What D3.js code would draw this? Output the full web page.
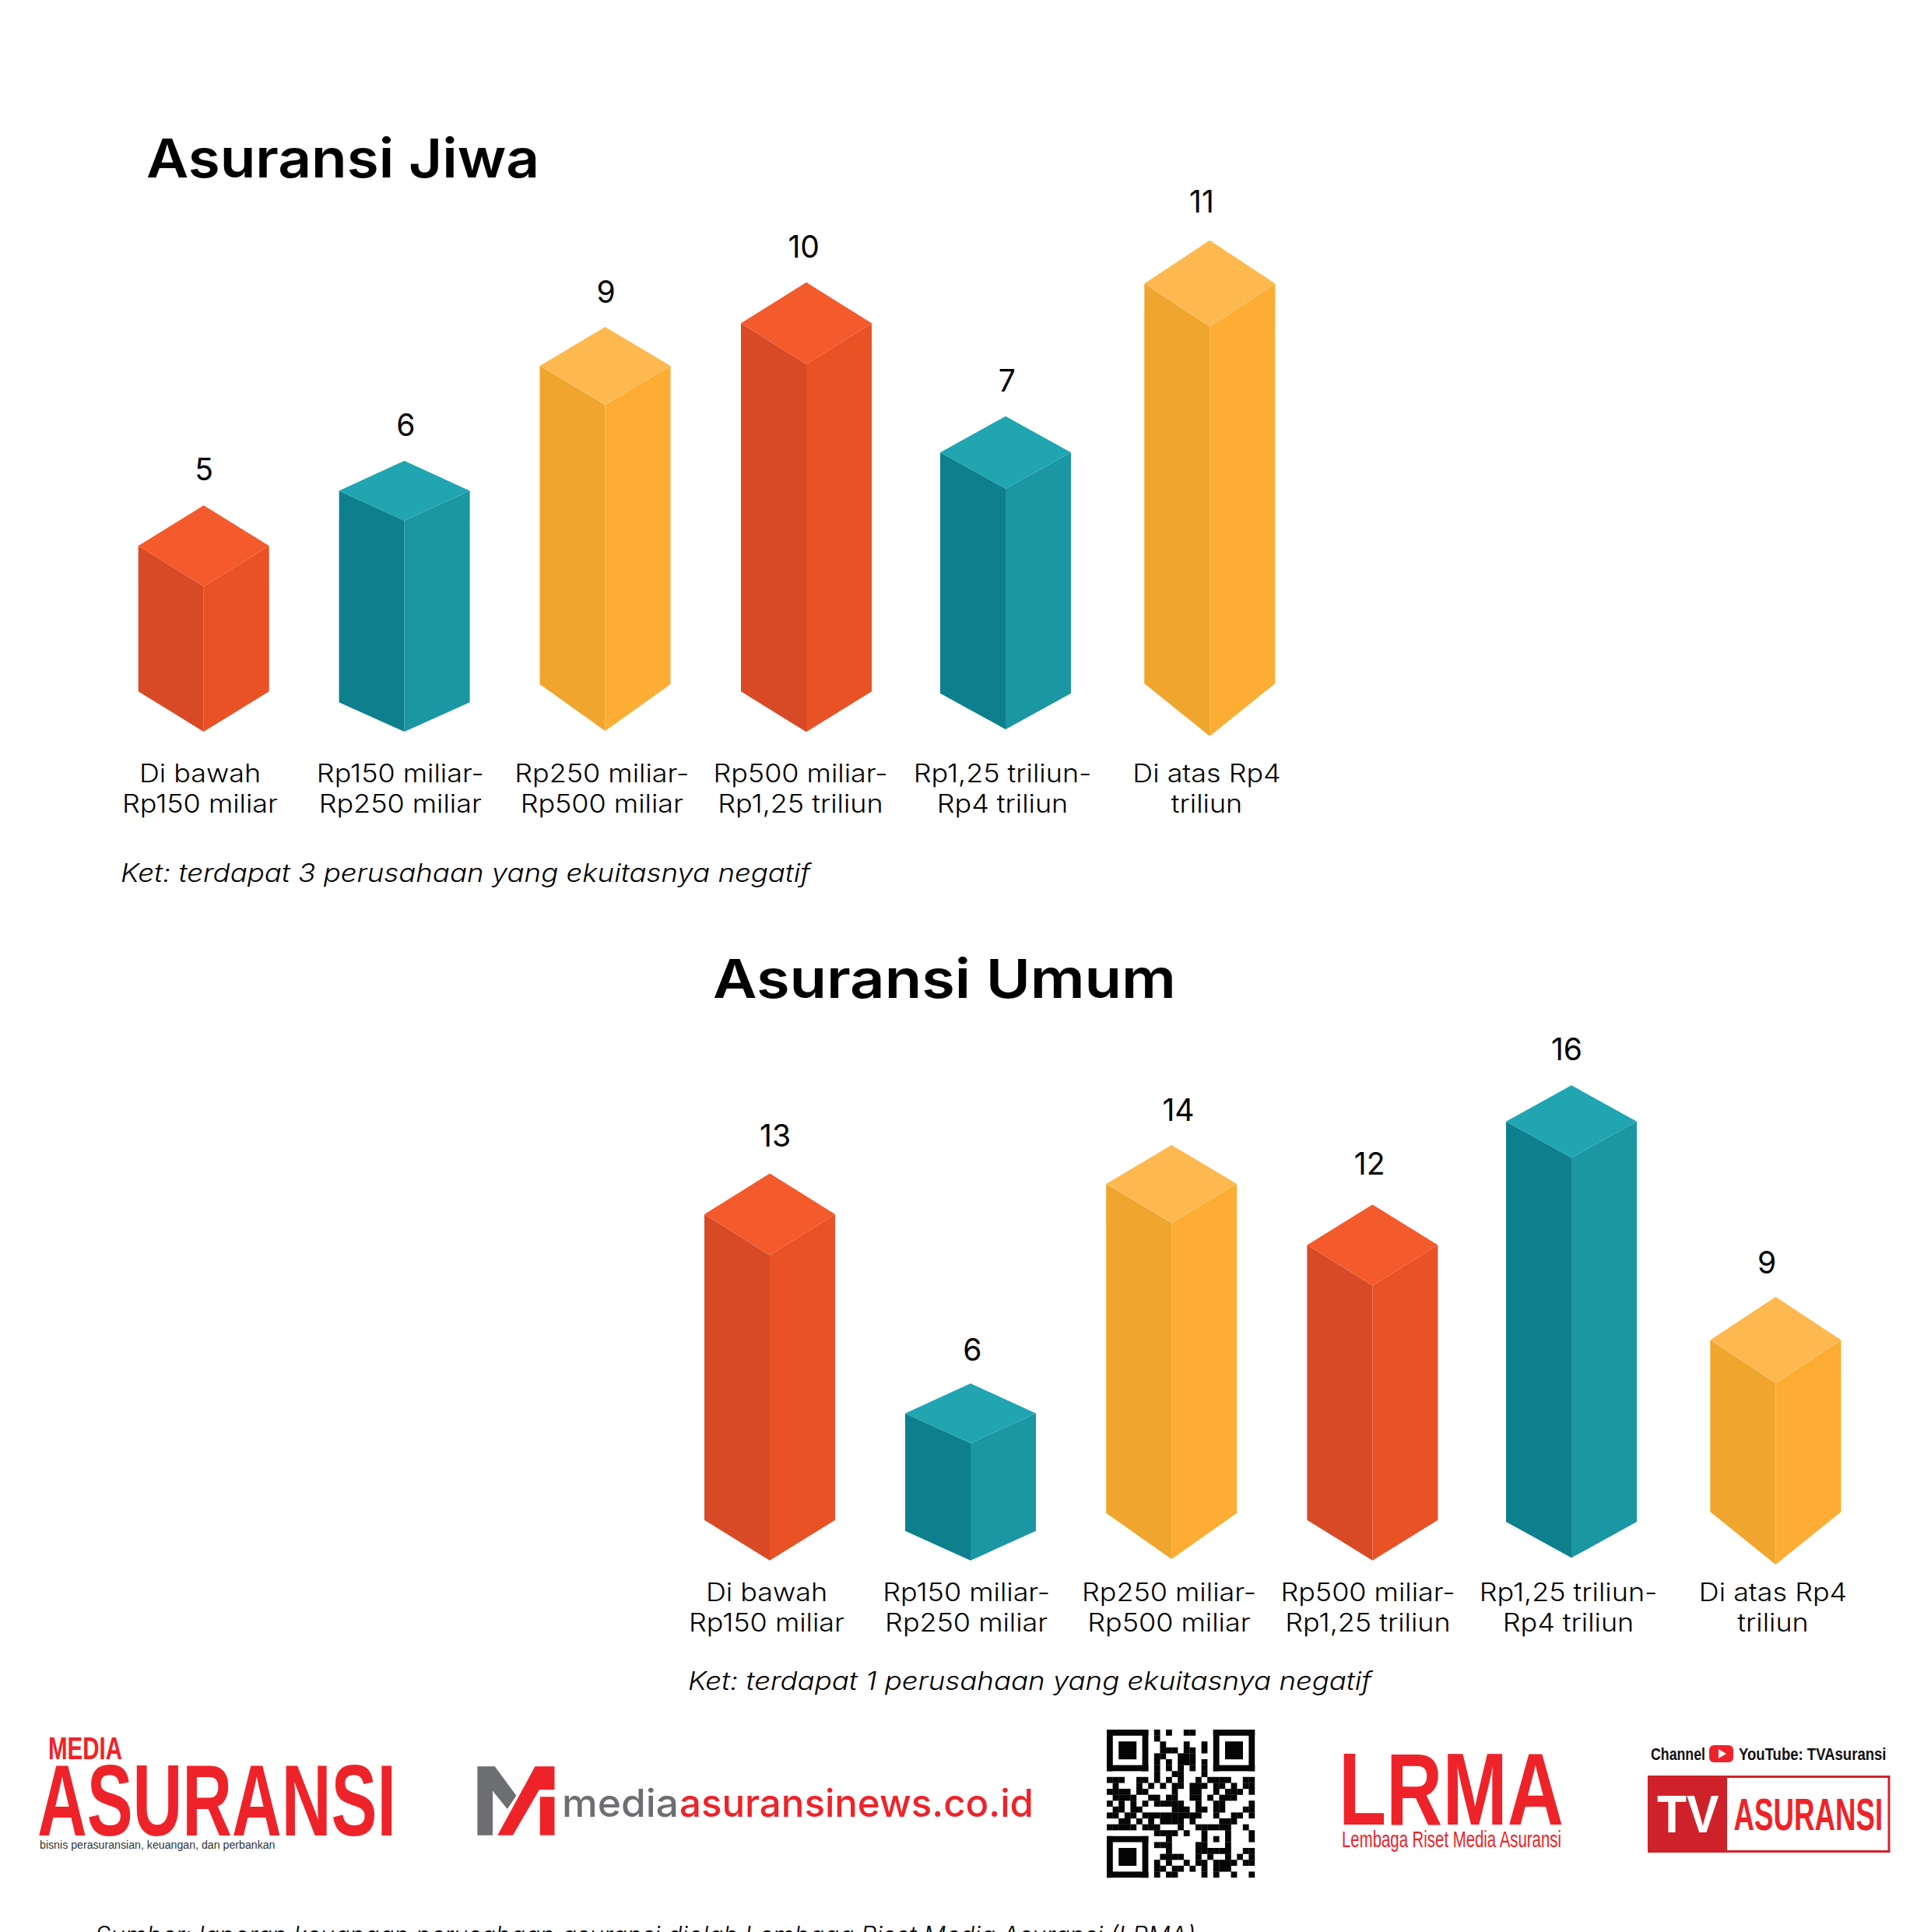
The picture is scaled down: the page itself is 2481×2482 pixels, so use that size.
<!DOCTYPE html>
<html><head><meta charset="utf-8">
<script src="https://cdn.jsdelivr.net/npm/d3@7/dist/d3.min.js"></script>
<style>html,body{margin:0;padding:0;background:#fff;overflow:hidden}svg{display:block}</style>
</head><body><svg id="c" width="2481" height="2482"></svg>
<script>
// ---- data ----
const categories = [
  ["Di bawah","Rp150 miliar"],
  ["Rp150 miliar-","Rp250 miliar"],
  ["Rp250 miliar-","Rp500 miliar"],
  ["Rp500 miliar-","Rp1,25 triliun"],
  ["Rp1,25 triliun-","Rp4 triliun"],
  ["Di atas Rp4","triliun"]
];
const jiwaValues = [5,6,9,10,7,11];
const umumValues = [13,6,14,12,16,9];
const titles = ["Asuransi Jiwa","Asuransi Umum"];
const notes = ["Ket: terdapat 3 perusahaan yang ekuitasnya negatif","Ket: terdapat 1 perusahaan yang ekuitasnya negatif"];
const source = "Sumber: laporan keuangan perusahaan asuransi diolah Lembaga Riset Media Asuransi (LRMA)";

// ---- styles / layout ----
const palette = [
  {top:"#f35a2c",left:"#d84a26",right:"#e95225"},
  {top:"#20a5b1",left:"#0e7f8d",right:"#1b96a3"},
  {top:"#fdb94f",left:"#f0a52e",right:"#fdad33"}
];
const colourIdx = [0,1,2,0,1,2];
const halfW = 84;
// half diamond height (top), bottom chamfer height, tip of the bottom, small drawing offset of the apex
const topDepth = [[52,38.4,50,52.5,46.5,55.5],[52.5,38.4,50,52,46.5,55.5]];
const botDepth = [[51.7,37.7,60,52,46.3,67.7],[52,38,59.3,52,46.3,67.7]];
const baseY    = [[940,940,939,940.3,937,945.7],[2004.7,2004.7,2003,2004.7,2001.3,2010]];
const apexNudge= [[0,0,0,0,0,3.4],[-1.7,0,0,0,0,3.7]];
const panelCfg = [
  {values:jiwaValues, centers:[261.7,519.6,777.5,1036,1292,1554.3], labelC:[257,514.3,773.3,1028.5,1288,1550.5],
   y0:935.9, y1:362.7, v1:10, lab1:1005, lab2:1044, valC:[262,521.4,778.6,1032.7,1293.9,1543.9], valDy:[32,32,31,32,32,32],
   title:{x:188,y:228,w:505}, note:{x:155,y:1133,w:886}},
  {values:umumValues, centers:[989,1247,1505.2,1763.4,2019,2281.4], labelC:[985,1241.7,1502,1757.5,2015,2278],
   y0:2007, y1:1394.3, v1:16, lab1:2057, lab2:2096, valC:[996,1249.4,1514,1759.7,2013,2270], valDy:[36.5,29,31,38,32,26],
   title:{x:916,y:1282,w:595}, note:{x:884,y:2171,w:878}}
];

const svg = d3.select("#c");
const MAIN = "Inter, 'Open Sans', sans-serif";
const NARROW = "'Liberation Sans Narrow','Liberation Sans',sans-serif";

function fit(sel, w){ // squeeze or stretch text to the reference's measured width
  sel.attr("textLength", w).attr("lengthAdjust","spacingAndGlyphs");
  return sel;
}
const WIDE = 1.105;
function widen(sel,f){ sel.each(function(){ const t=d3.select(this); t.attr("textLength", this.getComputedTextLength()*f).attr("lengthAdjust","spacingAndGlyphs");}); return sel; }

panelCfg.forEach((p,pi)=>{
  const y = d3.scaleLinear().domain([0,p.v1]).range([p.y0,p.y1]);
  const g = svg.append("g").attr("class","panel");
  const bars = g.selectAll("g.bar").data(p.values).join("g").attr("class","bar");
  const poly = (pts)=>pts.map(q=>q.join(",")).join(" ");
  bars.each(function(v,i){
    const c = p.centers[i], col = palette[colourIdx[i]];
    const a = y(v)+apexNudge[pi][i], td = topDepth[pi][i], bd = botDepth[pi][i], b = baseY[pi][i];
    const L=c-halfW, R=c+halfW, S=a+td, F=a+2*td, BS=b-bd;
    const s = d3.select(this);
    s.append("polygon").attr("points",poly([[L,S],[c,F],[c,b],[L,BS]])).attr("fill",col.left);
    s.append("polygon").attr("points",poly([[c,F],[R,S],[R,BS],[c,b]])).attr("fill",col.right);
    s.append("polygon").attr("points",poly([[c,a],[R,S],[c,F],[L,S]])).attr("fill",col.top);
  });
  g.selectAll("text.val").data(p.values).join("text").attr("class","val")
    .attr("x",(d,i)=>p.valC[i]).attr("y",(d,i)=>y(d)-p.valDy[i])
    .attr("text-anchor","middle").attr("font-family",MAIN).attr("font-size",39).attr("font-weight",400).attr("fill","#000")
    .text(d=>d);
  const cats = g.selectAll("g.cat").data(categories).join("g").attr("class","cat");
  cats.each(function(lines,i){
    const tx = d3.select(this).selectAll("text").data(lines).join("text")
      .attr("x",p.labelC[i]).attr("y",(d,j)=>j?p.lab2:p.lab1)
      .attr("text-anchor","middle").attr("font-family",MAIN).attr("font-size",32.5).attr("font-weight",300).attr("fill","#000")
      .text(d=>d);
    widen(tx,WIDE);
  });
  fit(g.append("text").attr("x",p.title.x).attr("y",p.title.y).attr("font-family",MAIN).attr("font-size",69).attr("font-weight",600).attr("fill","#000").text(titles[pi]),p.title.w);
  fit(g.append("text").attr("x",p.note.x).attr("y",p.note.y).attr("font-family",MAIN).attr("font-style","italic").attr("font-size",32).attr("font-weight",300).attr("fill","#000").text(notes[pi]),p.note.w);
});

fit(svg.append("text").attr("x",122).attr("y",2498).attr("font-family",MAIN).attr("font-style","italic").attr("font-size",32).attr("font-weight",300).attr("fill","#000").text(source),1414);

// ---- logos ----
const RED="#ee2329";
const logo = svg.append("g").attr("class","logos");
function cond(txt,x,y,w,capH,fill,weight,family){
  const fs = capH/0.688;
  return fit(logo.append("text").attr("x",x).attr("y",y).attr("font-family",family||NARROW).attr("font-weight",weight||700).attr("font-size",fs).attr("fill",fill).text(txt),w);
}
cond("MEDIA",62,2260,95,28,RED);
cond("ASURANSI",48,2358,461,89,RED);
cond("bisnis perasuransian, keuangan, dan perbankan",51,2375,302.5,9.5,"#333",400);
const zx=v=>v/1.12, zy=v=>2180+v/3;
const zpoly=(pts,f)=>logo.append("polygon").attr("points",pts.map(q=>zx(q[0])+","+zy(q[1])).join(" ")).attr("fill",f);
zpoly([[687,268],[712,268],[743,380],[730,432],[709,362],[709,533],[687,533]],"#6d6e71");
zpoly([[770,268],[798,268],[798,358],[776,358],[738,533],[716,533]],RED);
zpoly([[777,385],[798,385],[798,533],[777,533]],RED);
fit(logo.append("text").attr("x",722).attr("y",2334).attr("font-family",MAIN).attr("font-weight",500).attr("font-size",50).attr("fill","#6d6e71").text("media"),150);
fit(logo.append("text").attr("x",873).attr("y",2334).attr("font-family",MAIN).attr("font-weight",500).attr("font-size",50).attr("fill",RED).text("asuransinews.co.id"),455);

// QR rows: black module columns outside of the finder patterns
const qrRows = [
 [8,10,13,14],[8],[9,13,16],[9,10,11,13,14,16],[8,9,12,13,14],[8,10,12,13,14,16],[8,10,12,14,16],[8,11,12,16],
 [0,1,2,5,6,8,10,12,15,17,18,19,20,23,24],[1,5,7,9,11,12,14,15,16,18,19,21,23,24],[0,1,2,3,5,6,11,14,15,18,20,21,22,24],
 [1,2,3,4,7,8,10,11,14,15,17,19,20,21],[0,2,4,6,8,9,10,11,12,15,18,19,24],[1,2,4,5,11,12,13,15,16,18,19,23,24],
 [0,1,3,4,6,7,8,9,10,11,12,13,14,15,18,21,22,24],[2,3,5,7,9,10,11,12,14,19,20,21],[0,1,2,3,4,6,7,8,12,15,16,17,18,19,20,23],
 [8,9,10,11,13,16,20,24],[10,16,18,20,24],[8,9,10,15,16,20],[10,15,16,17,18,19,20,23,24],[9,10,11,12,15,17,20,22,24],
 [8,10,13,15,16,18,19,20,21,23,24],[8,9,11,12,14,16,18,19,20],[8,10,11,16,18,21,24]
];
const qrX=d3.scaleLinear().domain([0,25]).range([1422,1612]), qrY=d3.scaleLinear().domain([0,25]).range([2222,2412]);
const qr=logo.append("g").attr("fill","#050505");
const qm=(c,r,w=1,h=1)=>qr.append("rect").attr("x",qrX(c)).attr("y",qrY(r)).attr("width",qrX(w)-qrX(0)+.2).attr("height",qrY(h)-qrY(0)+.2);
qrRows.forEach((cols,r)=>cols.forEach(c=>qm(c,r)));
[[0,0],[18,0],[0,18]].forEach(([c,r])=>{
  qm(c,r,7,1);qm(c,r+6,7,1);qm(c,r,1,7);qm(c+6,r,1,7);qm(c+2,r+2,3,3);
});

cond("LRMA",1720,2344,289,90,RED,700);
cond("Lembaga Riset Media Asuransi",1724,2373,282,20,RED,400);
cond("Channel",2121,2260.7,70,15,"#111");
logo.append("rect").attr("x",2196).attr("y",2242).attr("width",31).attr("height",22).attr("rx",6).attr("fill",RED);
logo.append("polygon").attr("points","2208,2247 2208,2259 2218,2253").attr("fill","#fff");
cond("YouTube: TVAsuransi",2234,2260.7,189.5,15,"#111");
logo.append("rect").attr("x",2118.5).attr("y",2282.5).attr("width",308.5).attr("height",96).attr("fill","#fff").attr("stroke","#d2232a").attr("stroke-width",3);
logo.append("rect").attr("x",2117).attr("y",2281).attr("width",102).attr("height",98.7).attr("fill","#cf2129");
cond("TV",2129,2353.7,79.6,46.7,"#fff",700,"'Liberation Sans',sans-serif");
cond("ASURANSI",2227.6,2351.3,191.7,39,RED);
</script></body></html>
